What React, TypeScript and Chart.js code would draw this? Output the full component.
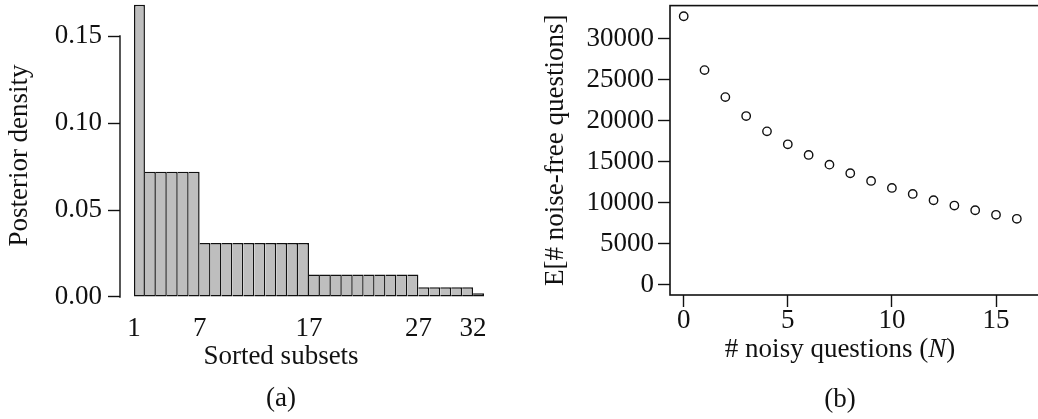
import React, { useEffect, useRef } from 'react';
import { Chart, registerables } from 'chart.js';

Chart.register(...registerables);

// ---------- Panel (a): posterior density over sorted subsets ----------
const subsetIds = [
  1, 2, 3, 4, 5, 6, 7, 8, 9, 10, 11, 12, 13, 14, 15, 16,
  17, 18, 19, 20, 21, 22, 23, 24, 25, 26, 27, 28, 29, 30, 31, 32,
];
const posteriorDensity = [
  0.168,
  0.072, 0.072, 0.072, 0.072, 0.072,
  0.031, 0.031, 0.031, 0.031, 0.031, 0.031, 0.031, 0.031, 0.031, 0.031,
  0.013, 0.013, 0.013, 0.013, 0.013, 0.013, 0.013, 0.013, 0.013, 0.013,
  0.0056, 0.0056, 0.0056, 0.0056, 0.0056,
  0.0021,
];
const subsetTickLabels = [1, 7, 17, 27, 32];
const densityTicks = [0, 0.05, 0.1, 0.15];

// ---------- Panel (b): expected noise-free questions ----------
const noisyQuestions = [0, 1, 2, 3, 4, 5, 6, 7, 8, 9, 10, 11, 12, 13, 14, 15, 16];
const expectedNoiseFree = [
  32750, 26180, 22890, 20580, 18710, 17130, 15830, 14650, 13600,
  12660, 11810, 11080, 10310, 9660, 9090, 8530, 8040,
];
const noisyTicks = [0, 5, 10, 15];
const noiseFreeTicks = [0, 5000, 10000, 15000, 20000, 25000, 30000];
const xTitleParts = [
  { text: '# noisy questions (', italic: false },
  { text: 'N', italic: true },
  { text: ')', italic: false },
];

const FAMILY = "'Liberation Serif', 'DejaVu Serif', serif";
const INK = '#111111';
const font = { family: FAMILY, size: 27, lineHeight: 1.2, weight: 'normal' };

const densityAxisLine = {
  id: 'densityAxisLine',
  afterDraw(chart: any) {
    const ys = chart.scales.y;
    const t = ys.ticks;
    if (!t.length) return;
    const ctx = chart.ctx;
    ctx.save();
    ctx.strokeStyle = INK;
    ctx.lineWidth = 1.4;
    ctx.lineCap = 'square';
    ctx.beginPath();
    ctx.moveTo(ys.right, ys.getPixelForValue(t[0].value));
    ctx.lineTo(ys.right, ys.getPixelForValue(t[t.length - 1].value));
    ctx.stroke();
    ctx.restore();
  },
};

const frameBox = {
  id: 'frameBox',
  afterDraw(chart: any) {
    const { ctx, chartArea } = chart;
    ctx.save();
    ctx.strokeStyle = INK;
    ctx.lineWidth = 1.6;
    ctx.strokeRect(chartArea.left, chartArea.top, chartArea.right - chartArea.left, chartArea.bottom - chartArea.top);
    ctx.restore();
  },
};

const mixedCaption = {
  id: 'mixedCaption',
  afterDraw(chart: any, _args: any, opts: any) {
    const parts = opts.parts || [];
    const ctx = chart.ctx;
    const y = chart.scales.x.bottom + (font.size * font.lineHeight) / 2;
    ctx.save();
    ctx.fillStyle = INK;
    ctx.textBaseline = 'middle';
    ctx.textAlign = 'left';
    const fonts = parts.map((p: any) => `${p.italic ? 'italic ' : ''}${font.size}px ${FAMILY}`);
    let total = 0;
    const widths = parts.map((p: any, i: number) => {
      ctx.font = fonts[i];
      const w = ctx.measureText(p.text).width;
      total += w;
      return w;
    });
    let x = chart.width / 2 - total / 2;
    parts.forEach((p: any, i: number) => {
      ctx.font = fonts[i];
      ctx.fillText(p.text, x, y);
      x += widths[i];
    });
    ctx.restore();
  },
};

const dummyRight = (w: number) => ({
  type: 'linear',
  position: 'right',
  display: true,
  grid: { display: false },
  border: { display: false },
  ticks: { display: false },
  afterFit: (s: any) => {
    s.width = w;
    s.paddingTop = 0;
    s.paddingBottom = 0;
  },
});

export default function App() {
  const leftRef = useRef<HTMLCanvasElement>(null);
  const rightRef = useRef<HTMLCanvasElement>(null);

  useEffect(() => {
    const last = posteriorDensity.length - 1;
    const bw = 1.5;
    const left = new Chart(leftRef.current as HTMLCanvasElement, {
      type: 'bar',
      data: {
        datasets: [
          {
            data: subsetIds.map((s, i) => ({ x: s - 0.5, y: posteriorDensity[i] })),
            backgroundColor: '#bebebe',
            borderColor: INK,
            borderWidth: (c: any) => {
              const i = c.dataIndex;
              const v = posteriorDensity;
              return {
                top: bw,
                bottom: bw,
                left: i === 0 || v[i] > v[i - 1] ? bw : 0,
                right: i === last || v[i] >= v[i + 1] ? bw : 0,
              };
            },
            borderSkipped: false,
            inflateAmount: 0,
            barPercentage: 1,
            categoryPercentage: 1,
          } as any,
        ],
      },
      options: {
        responsive: false,
        animation: false,
        devicePixelRatio: 1,
        layout: { padding: 0 },
        plugins: {
          legend: { display: false },
          tooltip: { enabled: false },
          title: {
            display: true,
            text: '(a)',
            position: 'bottom',
            font,
            color: INK,
            padding: { top: 0, bottom: 3.8 },
          },
          subtitle: {
            display: true,
            text: 'Sorted subsets',
            position: 'bottom',
            font,
            color: INK,
            padding: { top: 0, bottom: 9.6 },
          },
        },
        scales: {
          x: {
            type: 'linear',
            position: 'bottom',
            offset: false,
            min: -1.28,
            max: 33.28,
            grid: { display: false, offset: false },
            border: { display: false },
            afterBuildTicks: (s: any) => {
              s.ticks = subsetTickLabels.map((v) => ({ value: v - 1 }));
            },
            ticks: {
              autoSkip: false,
              maxRotation: 0,
              padding: -6.2,
              font,
              color: INK,
              callback: (_v: any, i: number) => String(subsetTickLabels[i]),
            },
            afterFit: (s: any) => {
              s.height = 29.8;
              s.paddingLeft = 0;
              s.paddingRight = 0;
            },
          },
          y: {
            type: 'linear',
            position: 'left',
            min: -0.008046,
            max: 0.17069,
            border: { display: false },
            grid: {
              display: true,
              drawOnChartArea: false,
              drawTicks: true,
              tickLength: 12,
              tickColor: INK,
              tickWidth: 1.4,
            },
            afterBuildTicks: (s: any) => {
              s.ticks = densityTicks.map((v) => ({ value: v }));
            },
            ticks: {
              padding: 6,
              font,
              color: INK,
              callback: (v: any) => Number(v).toFixed(2),
            },
            title: {
              display: true,
              text: 'Posterior density',
              font,
              color: INK,
              padding: { top: 4.1, bottom: 0 },
            },
            afterFit: (s: any) => {
              s.width = 120;
              s.paddingTop = 0;
              s.paddingBottom = 0;
            },
          },
          yR: dummyRight(64) as any,
        },
      } as any,
      plugins: [densityAxisLine],
    });

    const right = new Chart(rightRef.current as HTMLCanvasElement, {
      type: 'scatter',
      data: {
        datasets: [
          {
            data: noisyQuestions.map((n, i) => ({ x: n, y: expectedNoiseFree[i] })),
            pointRadius: 4.2,
            pointBorderWidth: 1.4,
            pointBorderColor: INK,
            pointBackgroundColor: 'rgba(0,0,0,0)',
            showLine: false,
          },
        ],
      },
      options: {
        responsive: false,
        animation: false,
        devicePixelRatio: 1,
        layout: { padding: { top: 5, left: 0, right: 0, bottom: 0 } },
        plugins: {
          legend: { display: false },
          tooltip: { enabled: false },
          title: {
            display: true,
            text: '(b)',
            position: 'bottom',
            font,
            color: INK,
            padding: { top: 0, bottom: 2.8 },
          },
          subtitle: {
            display: true,
            text: xTitleParts.map((p) => p.text).join(''),
            position: 'bottom',
            font,
            color: 'rgba(0,0,0,0)',
            padding: { top: 0, bottom: 17.6 },
          },
          mixedCaption: { parts: xTitleParts },
        },
        scales: {
          x: {
            type: 'linear',
            position: 'bottom',
            offset: false,
            min: -0.658,
            max: 18.266,
            border: { display: false },
            grid: {
              display: true,
              drawOnChartArea: false,
              drawTicks: true,
              tickLength: 12,
              tickColor: INK,
              tickWidth: 1.4,
            },
            afterBuildTicks: (s: any) => {
              s.ticks = noisyTicks.map((v) => ({ value: v }));
            },
            ticks: {
              autoSkip: false,
              maxRotation: 0,
              padding: -2.2,
              font,
              color: INK,
              callback: (v: any) => String(v),
            },
            afterFit: (s: any) => {
              s.height = 38.8;
              s.paddingLeft = 0;
              s.paddingRight = 0;
            },
          },
          y: {
            type: 'linear',
            position: 'left',
            min: -1250,
            max: 34050,
            border: { display: false },
            grid: {
              display: true,
              drawOnChartArea: false,
              drawTicks: true,
              tickLength: 12,
              tickColor: INK,
              tickWidth: 1.4,
            },
            afterBuildTicks: (s: any) => {
              s.ticks = noiseFreeTicks.map((v) => ({ value: v }));
            },
            ticks: {
              padding: 4,
              font,
              color: INK,
              callback: (v: any) => String(v),
            },
            title: {
              display: true,
              text: 'E[# noise-free questions]',
              font,
              color: INK,
              padding: { top: 20.8, bottom: 0 },
            },
            afterFit: (s: any) => {
              s.width = 151;
              s.paddingTop = 0;
              s.paddingBottom = 0;
            },
          },
          yR: dummyRight(97) as any,
        },
      } as any,
      plugins: [frameBox, mixedCaption],
    });

    return () => {
      left.destroy();
      right.destroy();
    };
  }, []);

  return (
    <div
      style={{
        position: 'absolute',
        left: 0,
        top: 0,
        width: 1038,
        height: 419,
        overflow: 'hidden',
        background: '#ffffff',
      }}
    >
      <canvas
        ref={leftRef}
        width={562}
        height={419}
        style={{ position: 'absolute', left: 0, top: 0, width: 562, height: 419 }}
      />
      <canvas
        ref={rightRef}
        width={642}
        height={419}
        style={{ position: 'absolute', left: 519, top: 0, width: 642, height: 419 }}
      />
    </div>
  );
}
